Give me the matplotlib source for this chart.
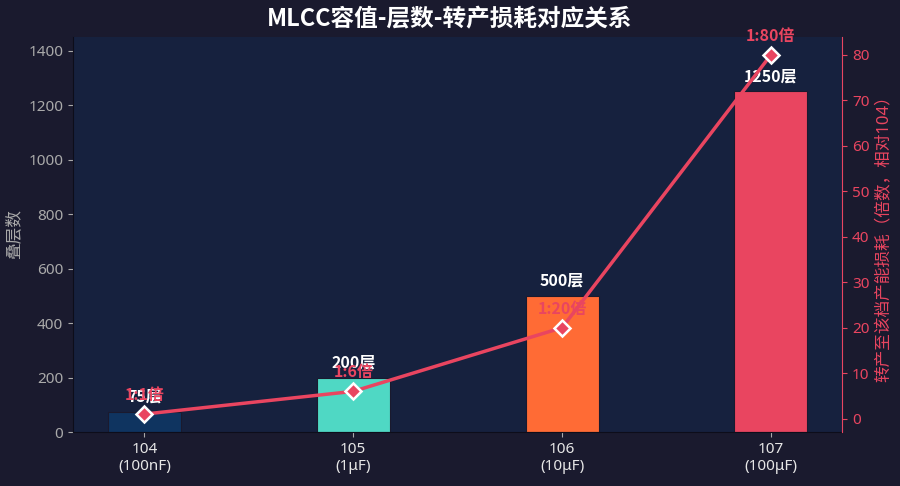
import numpy as np
import matplotlib.pyplot as plt

plt.rcParams['font.family'] = ['Noto Sans', 'Noto Sans CJK SC', 'DejaVu Sans']
bold_font = ['Noto Sans CJK SC', 'DejaVu Sans']

# data
categories = ['104\n(100nF)', '105\n(1μF)', '106\n(10μF)', '107\n(100μF)']
layers = [75, 200, 500, 1250]
loss_ratio = [1, 6, 20, 80]
loss_labels = ['1:1倍', '1:6倍', '1:20倍', '1:80倍']
bar_colors = ['#0f3460', '#4fd8c4', '#ff6b35', '#e94560']

fig_bg = '#1a1a2e'
ax_bg = '#16213e'
pink = '#e94560'

fig = plt.figure(figsize=(9, 4.86), dpi=100, facecolor=fig_bg)
ax = fig.add_axes([0.081, 0.111, 0.855, 0.813])
ax.set_facecolor(ax_bg)

x = np.arange(len(categories))
ax.bar(x, layers, width=0.35, color=bar_colors, edgecolor='#1a1a2e', linewidth=0.8)
for xi, v in zip(x, layers):
    ax.annotate(f'{v}层', (xi, v), xytext=(0, 5), textcoords='offset points',
                ha='center', va='bottom', color='white', fontsize=11.5,
                fontweight='bold', family=bold_font)

ax.set_ylim(0, 1450)
ax.set_xticks(x)
ax.set_xticklabels(categories, fontsize=11)
ax.tick_params(axis='y', colors='#aaaaaa', labelsize=11)
ax.tick_params(axis='x', colors='#aaaaaa')
for lab in ax.get_xticklabels():
    lab.set_color('#e6e6e6')
ax.set_ylabel('叠层数', color='#aaaaaa', fontsize=12)
ax.spines['top'].set_visible(False)
ax.spines['right'].set_visible(False)
ax.spines['left'].set_color('#0d0d1a')
ax.spines['bottom'].set_color('#0d0d1a')

ax2 = ax.twinx()
ax2.plot(x, loss_ratio, color=pink, linewidth=2.5, marker='D', markersize=8,
         markerfacecolor=pink, markeredgecolor='white', markeredgewidth=1.8)
for xi, v, lab in zip(x, loss_ratio, loss_labels):
    ax2.annotate(lab, (xi, v), xytext=(0, 8), textcoords='offset points',
                 ha='center', va='bottom', color=pink, fontsize=11.5,
                 fontweight='bold', family=bold_font)
ax2.set_ylabel('转产至该档产能损耗（倍数，相对104）', color=pink, fontsize=12)
ax2.tick_params(axis='y', colors=pink, labelsize=11)
for lab in ax2.get_yticklabels():
    lab.set_color(pink)
ax2.spines['right'].set_color(pink)
ax2.spines['top'].set_visible(False)
ax2.spines['left'].set_visible(False)
ax2.spines['bottom'].set_visible(False)

fig.suptitle('MLCC容值-层数-转产损耗对应关系', color='white', fontsize=17,
             fontweight='bold', family=bold_font, y=0.985)

fig.savefig('out.png', dpi=100, facecolor=fig_bg)
